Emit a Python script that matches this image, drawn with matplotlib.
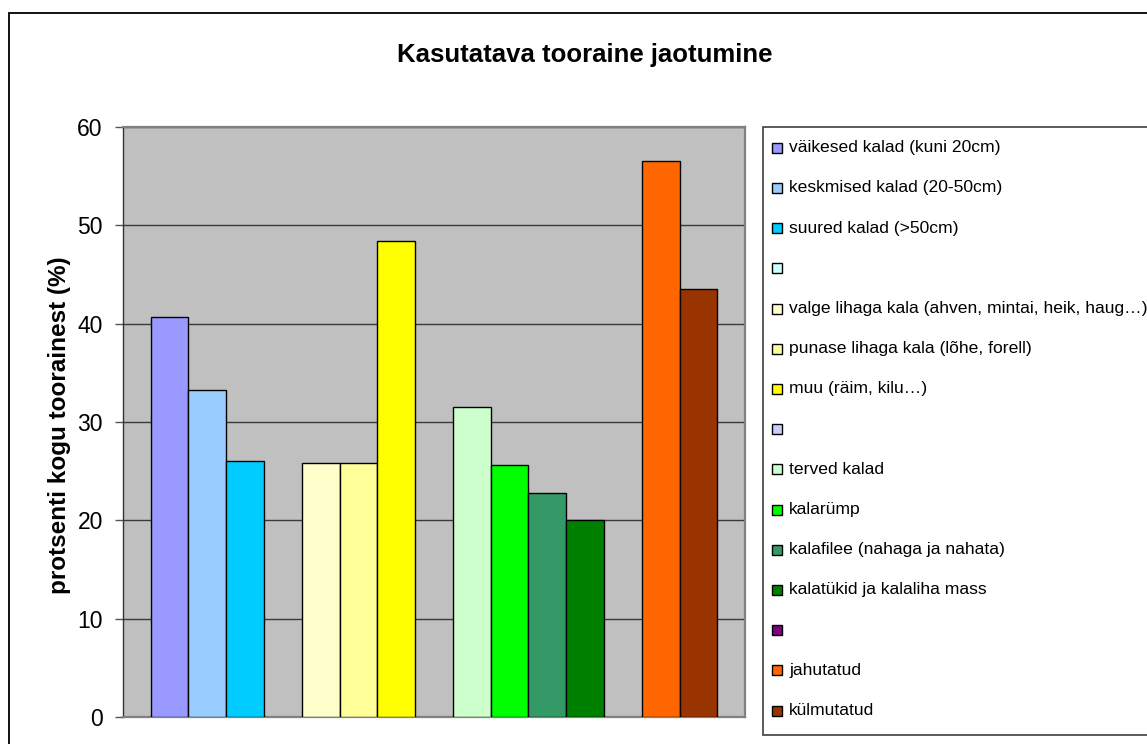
import matplotlib
matplotlib.use("Agg")
import matplotlib.pyplot as plt
from matplotlib.patches import Rectangle
import numpy as np

# ---- data ----
labels = [
    "väikesed kalad (kuni 20cm)",
    "keskmised kalad (20-50cm)",
    "suured kalad (>50cm)",
    "",
    "valge lihaga kala (ahven, mintai, heik, haug…)",
    "punase lihaga kala (lõhe, forell)",
    "muu (räim, kilu…)",
    "",
    "terved kalad",
    "kalarümp",
    "kalafilee (nahaga ja nahata)",
    "kalatükid ja kalaliha mass",
    "",
    "jahutatud",
    "külmutatud",
]
values = [40.7, 33.3, 26.0, None, 25.8, 25.8, 48.4, None,
          31.5, 25.6, 22.8, 20.0, None, 56.5, 43.5]
colors = ["#9999FF", "#99CCFF", "#00CCFF", "#CCFFFF", "#FFFFCC", "#FFFF99",
          "#FFFF00", "#CCCCFF", "#CCFFCC", "#00FF00", "#339966", "#008000",
          "#800080", "#FF6600", "#993300"]
yticks = [0, 10, 20, 30, 40, 50, 60]
title = "Kasutatava tooraine jaotumine"
ylabel = "protsenti kogu toorainest (%)"

W, H = 1147, 744
plt.rcParams['font.family'] = ['Liberation Sans', 'DejaVu Sans']
fig = plt.figure(figsize=(W / 100, H / 100), dpi=100)

def fx(px):
    return px / W

def fy(py):
    return 1 - py / H

# outer chart frame
fig.patches.append(Rectangle((fx(9), fy(800)), fx(1200) - fx(9), fy(13) - fy(800),
                             transform=fig.transFigure, fill=False,
                             edgecolor="black", linewidth=1.3, zorder=0))

ax_l, ax_r, ax_t, ax_b = 123, 745, 127, 717
ax = fig.add_axes([fx(ax_l), fy(ax_b), fx(ax_r) - fx(ax_l), fy(ax_t) - fy(ax_b)])
ax.set_facecolor("#C0C0C0")

for i, (v, c) in enumerate(zip(values, colors)):
    if v is None:
        continue
    ax.bar(i, v, width=1.0, color=c, edgecolor="black", linewidth=1.0, zorder=3)

ax.set_xlim(-0.5 - 0.73, len(values) - 0.5 + 0.73)
ax.set_ylim(0, 60)
ax.set_yticks(yticks)
ax.set_xticks([])
ax.yaxis.grid(True, color="#3a3a3a", linewidth=1.0, zorder=1)
ax.set_axisbelow(True)
ax.tick_params(axis="y", length=6, width=1.0, color="#555555", pad=8.5, labelsize=16.5)
for s in ["top", "right", "bottom"]:
    ax.spines[s].set_color("#808080")
    ax.spines[s].set_linewidth(1.6)
ax.spines["left"].set_color("#333333")
ax.spines["left"].set_linewidth(1.0)

fig.text(fx(585), fy(55), title, ha="center", va="center",
         fontsize=18.5, fontweight="bold")
fig.text(fx(60), fy(425), ylabel, ha="center", va="center", rotation=90,
         fontsize=17.5, fontweight="bold")

# legend
fig.patches.append(Rectangle((fx(763), fy(735)), fx(1200) - fx(763), fy(127) - fy(735),
                             transform=fig.transFigure, facecolor="white",
                             edgecolor="#404040", linewidth=1.2, zorder=1))
for i, (lab, c) in enumerate(zip(labels, colors)):
    yc = 147.7 + 40.2 * i
    fig.patches.append(Rectangle((fx(772), fy(yc + 5)), fx(782) - fx(772), fy(yc - 5) - fy(yc + 5),
                                 transform=fig.transFigure, facecolor=c,
                                 edgecolor="black", linewidth=1.0, zorder=2))
    if lab:
        fig.text(fx(789), fy(yc), lab, ha="left", va="center", fontsize=12.6, zorder=3)

fig.savefig("out.png", dpi=100)
